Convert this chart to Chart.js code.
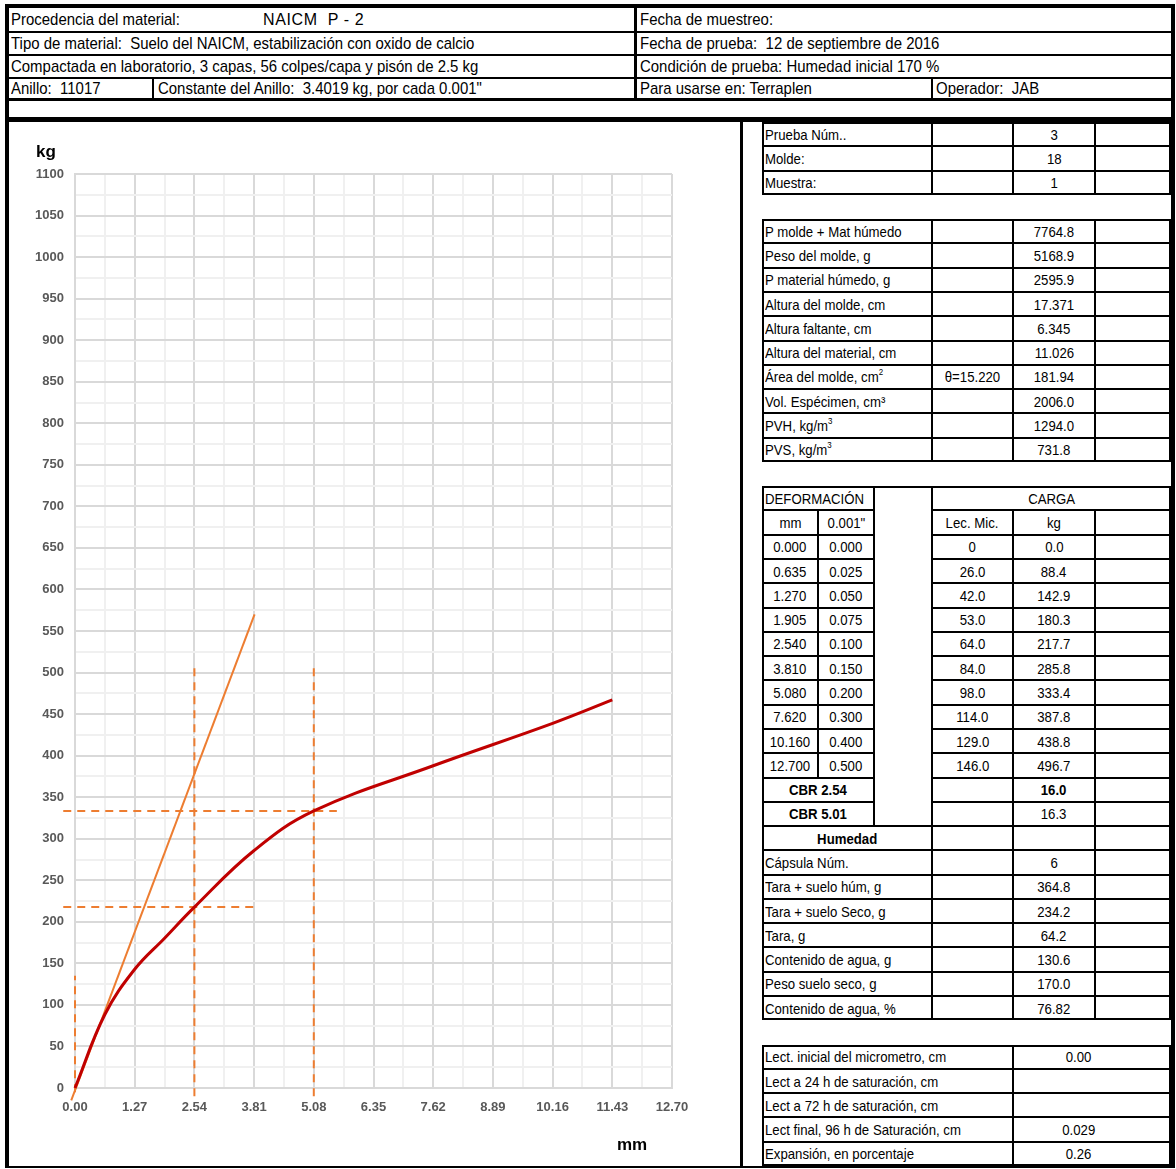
<!DOCTYPE html>
<html lang="es">
<head>
<meta charset="utf-8">
<title>CBR NAICM P-2</title>
<script src="https://cdn.jsdelivr.net/npm/chart.js@4.4.1/dist/chart.umd.min.js"></script>
<style>
  html, body { margin: 0; padding: 0; background: #fff; }
  body {
    width: 1176px; height: 1169px; position: relative; overflow: hidden; color: #000;
    font-family: "Liberation Sans Narrow", "Arial Narrow", "Liberation Sans", Arial, sans-serif;
  }
  .ln { position: absolute; background: #000; }
  .hd {
    position: absolute; font-size: 17px; line-height: 23px; white-space: nowrap;
    transform: scaleX(0.88); transform-origin: left center;
  }
  #chartBox { position: absolute; left: 9px; top: 122px; width: 731px; height: 1044px; }
  #tbl {
    position: absolute; left: 762px; top: 122px; width: 409px; height: 1044px;
    display: grid; grid-template-columns: 56px 56px 58px 81px 82px 76px;
    grid-template-rows: repeat(43, 1fr); font-size: 15px;
  }
  #tbl .c {
    border: 1px solid #000; display: flex; align-items: center; justify-content: center;
    white-space: nowrap; overflow: hidden;
  }
  #tbl .c span { display: inline-block; transform: scaleX(0.88); transform-origin: center; }
  #tbl .l { justify-content: flex-start; padding-left: 2px; }
  #tbl .l span { transform-origin: left center; }
  #tbl .b { font-weight: bold; }
  #tbl .r { padding-right: 26px; }
  #tbl .sec { border: 2px solid #000; pointer-events: none; }
  sup { font-size: 9px; vertical-align: top; line-height: 9px; }
</style>
</head>
<body>

<!-- frame -->
<div class="ln" style="left:5px;top:4px;width:1170px;height:4px"></div>
<div class="ln" style="left:5px;top:4px;width:4px;height:1164px"></div>
<div class="ln" style="left:1171px;top:4px;width:4px;height:1164px"></div>
<div class="ln" style="left:5px;top:1166px;width:1170px;height:2px"></div>
<!-- header rows -->
<div class="ln" style="left:5px;top:31px;width:1170px;height:2px"></div>
<div class="ln" style="left:5px;top:54px;width:1170px;height:2px"></div>
<div class="ln" style="left:5px;top:77px;width:1170px;height:2px"></div>
<div class="ln" style="left:5px;top:98px;width:1170px;height:3px"></div>
<div class="ln" style="left:5px;top:117px;width:1170px;height:5px"></div>
<div class="ln" style="left:634px;top:8px;width:3px;height:92px"></div>
<div class="ln" style="left:152px;top:77px;width:2px;height:22px"></div>
<div class="ln" style="left:931px;top:77px;width:2px;height:22px"></div>
<div class="ln" style="left:740px;top:122px;width:3px;height:1046px"></div>

<div class="hd" style="left:11px;top:8px">Procedencia del material:</div>
<div class="hd" style="left:263px;top:8px;font-family:'Liberation Sans',Arial,sans-serif;font-size:16px;letter-spacing:0.6px;transform:none">NAICM&nbsp; P - 2</div>
<div class="hd" style="left:11px;top:32px">Tipo de material:&nbsp; Suelo del NAICM, estabilización con oxido de calcio</div>
<div class="hd" style="left:11px;top:55px">Compactada en laboratorio, 3 capas, 56 colpes/capa y pisón de 2.5 kg</div>
<div class="hd" style="left:11px;top:77px">Anillo:&nbsp; 11017</div>
<div class="hd" style="left:158px;top:77px">Constante del Anillo:&nbsp; 3.4019 kg, por cada 0.001"</div>
<div class="hd" style="left:640px;top:8px">Fecha de muestreo:</div>
<div class="hd" style="left:640px;top:32px">Fecha de prueba:&nbsp; 12 de septiembre de 2016</div>
<div class="hd" style="left:640px;top:55px">Condición de prueba: Humedad inicial 170 %</div>
<div class="hd" style="left:640px;top:77px">Para usarse en: Terraplen</div>
<div class="hd" style="left:936px;top:77px">Operador:&nbsp; JAB</div>

<div id="chartBox"><canvas id="cbrChart"></canvas></div>
<div id="tbl"></div>

<script>
// Penetration test readings (table)
const deformMm = [0.000, 0.635, 1.270, 1.905, 2.540, 3.810, 5.080, 7.620, 10.160, 12.700];
const deformIn = [0.000, 0.025, 0.050, 0.075, 0.100, 0.150, 0.200, 0.300, 0.400, 0.500];
const lecMic = [0, 26.0, 42.0, 53.0, 64.0, 84.0, 98.0, 114.0, 129.0, 146.0];
const cargaKg = [0.0, 88.4, 142.9, 180.3, 217.7, 285.8, 333.4, 387.8, 438.8, 496.7];

// Curve drawn in the chart
const curveMm = [0, 0.635, 1.27, 1.905, 2.54, 3.81, 5.08, 7.62, 10.16, 11.43];
const curveKg = [0, 88.4, 142.9, 180.3, 217.7, 285.8, 333.4, 387.8, 438.8, 467.0];

// Tangent (corrected origin) line
const tangentMm = [-0.08, 3.82];
const tangentKg = [-15, 570];

// Dashed guide lines: pairs of [start, end]
const dashMm = [[0, 0], [2.54, 2.54], [5.08, 5.08], [-0.25, 3.87], [-0.25, 5.57]];
const dashKg = [[-5, 135], [-10, 510], [-10, 510], [217.7, 217.7], [333.4, 333.4]];

// Axis ticks
const xTickLabels = ['0.00', '1.27', '2.54', '3.81', '5.08', '6.35', '7.62', '8.89', '10.16', '11.43', '12.70'];
const yTickLabels = [0, 50, 100, 150, 200, 250, 300, 350, 400, 450, 500, 550,
                     600, 650, 700, 750, 800, 850, 900, 950, 1000, 1050, 1100];

// Side table texts
const infoRows = [['Prueba Núm..', '', '3'], ['Molde:', '', '18'], ['Muestra:', '', '1']];
const pesoRows = [
    ['P molde + Mat húmedo', '', '7764.8'],
    ['Peso del molde, g', '', '5168.9'],
    ['P material húmedo, g', '', '2595.9'],
    ['Altura del molde, cm', '', '17.371'],
    ['Altura faltante, cm', '', '6.345'],
    ['Altura del material, cm', '', '11.026'],
    ['Área del molde, cm<sup>2</sup>', 'θ=15.220', '181.94'],
    ['Vol. Espécimen, cm³', '', '2006.0'],
    ['PVH, kg/m<sup>3</sup>', '', '1294.0'],
    ['PVS, kg/m<sup>3</sup>', '', '731.8']
];
const humRows = [
    ['Cápsula Núm.', '6'],
    ['Tara + suelo húm, g', '364.8'],
    ['Tara + suelo Seco, g', '234.2'],
    ['Tara, g', '64.2'],
    ['Contenido de agua, g', '130.6'],
    ['Peso suelo seco, g', '170.0'],
    ['Contenido de agua, %', '76.82']
];
const lectRows = [
    ['Lect. inicial del micrometro, cm', '0.00'],
    ['Lect a 24 h de saturación, cm', ''],
    ['Lect a 72 h de saturación, cm', ''],
    ['Lect final, 96 h de Saturación, cm', '0.029'],
    ['Expansión, en porcentaje', '0.26']
];

/**
 * Build the side table on a CSS grid
 */
const tbl = document.getElementById('tbl');
function cell(row, col, cs, text, cls, rs) {
    const d = document.createElement('div');
    d.className = 'c ' + (cls || '');
    d.style.gridArea = `${row + 1} / ${col} / span ${rs || 1} / span ${cs}`;
    if (text) d.innerHTML = `<span>${text}</span>`;
    tbl.appendChild(d);
}
function section(r0, r1) {
    const d = document.createElement('div');
    d.className = 'sec';
    d.style.gridArea = `${r0 + 1} / 1 / ${r1 + 2} / 7`;
    tbl.appendChild(d);
}

infoRows.forEach((r, i) => {
    cell(i, 1, 3, r[0], 'l'); cell(i, 4, 1, r[1]); cell(i, 5, 1, r[2]); cell(i, 6, 1, '');
});
pesoRows.forEach((r, i) => {
    const row = 4 + i;
    cell(row, 1, 3, r[0], 'l'); cell(row, 4, 1, r[1]); cell(row, 5, 1, r[2]); cell(row, 6, 1, '');
});

cell(15, 1, 2, 'DEFORMACIÓN', 'l');
cell(15, 3, 1, '', '', 14);
cell(15, 4, 3, 'CARGA');
cell(16, 1, 1, 'mm'); cell(16, 2, 1, '0.001"');
cell(16, 4, 1, 'Lec. Mic.'); cell(16, 5, 1, 'kg'); cell(16, 6, 1, '');
deformMm.forEach((v, i) => {
    const row = 17 + i;
    cell(row, 1, 1, v.toFixed(3));
    cell(row, 2, 1, deformIn[i].toFixed(3));
    cell(row, 4, 1, i === 0 ? '0' : lecMic[i].toFixed(1));
    cell(row, 5, 1, cargaKg[i].toFixed(1));
    cell(row, 6, 1, '');
});
cell(27, 1, 2, 'CBR 2.54', 'b'); cell(27, 4, 1, ''); cell(27, 5, 1, '16.0', 'b'); cell(27, 6, 1, '');
cell(28, 1, 2, 'CBR 5.01', 'b'); cell(28, 4, 1, ''); cell(28, 5, 1, '16.3'); cell(28, 6, 1, '');
cell(29, 1, 3, 'Humedad', 'b'); cell(29, 4, 1, ''); cell(29, 5, 1, ''); cell(29, 6, 1, '');
humRows.forEach((r, i) => {
    const row = 30 + i;
    cell(row, 1, 3, r[0], 'l'); cell(row, 4, 1, ''); cell(row, 5, 1, r[1]); cell(row, 6, 1, '');
});
lectRows.forEach((r, i) => {
    const row = 38 + i;
    cell(row, 1, 4, r[0], 'l'); cell(row, 5, 2, r[1], 'r');
});
section(0, 2); section(4, 13); section(15, 36); section(38, 42);

/**
 * Chart
 */
const GRID_MAJOR = '#d9d9d9';
const GRID_MINOR = '#f0f0f0';
const ORANGE = '#ED7D31';
const RED = '#C00000';

function withMinor(values) {
    const out = [];
    values.forEach((v, i) => {
        out.push({ value: v });
        if (i < values.length - 1) out.push({ value: (v + values[i + 1]) / 2 });
    });
    return out;
}
const xMajor = xTickLabels.map(Number);

const pts = (xs, ys) => xs.map((x, i) => ({ x: x, y: ys[i] }));

const datasets = [{
    data: pts(curveMm, curveKg),
    borderColor: RED,
    borderWidth: 3,
    tension: 0.4,
    clip: false
}, {
    data: pts(tangentMm, tangentKg),
    borderColor: ORANGE,
    borderWidth: 2,
    clip: false
}];
dashMm.forEach((xs, i) => {
    datasets.push({
        data: pts(xs, dashKg[i]),
        borderColor: ORANGE,
        borderWidth: 2,
        borderDash: [8, 6],
        clip: false
    });
});

const axisTitles = {
    id: 'axisTitles',
    afterDraw(chart) {
        const { ctx, chartArea } = chart;
        ctx.save();
        ctx.font = 'bold 17px "Liberation Sans", Arial, sans-serif';
        ctx.fillStyle = '#000';
        ctx.textAlign = 'left';
        ctx.textBaseline = 'middle';
        ctx.fillText('kg', chartArea.left - 39, chartArea.top - 22);
        ctx.fillText('mm', chartArea.right - 55, chartArea.bottom + 57);
        ctx.restore();
    }
};

const tickFont = { family: '"Liberation Sans", Arial, sans-serif', size: 13, weight: 'bold' };

new Chart(document.getElementById('cbrChart').getContext('2d'), {
    type: 'scatter',
    data: { datasets: datasets },
    options: {
        responsive: true,
        maintainAspectRatio: false,
        animation: false,
        showLine: true,
        elements: { point: { radius: 0, hoverRadius: 0 } },
        layout: { padding: { top: 52, right: 68, left: 0, bottom: 0 } },
        plugins: { legend: { display: false }, tooltip: { enabled: false } },
        scales: {
            x: {
                type: 'linear', min: 0, max: 12.7,
                afterBuildTicks: s => { s.ticks = withMinor(xMajor); },
                afterFit: s => { s.height = 78; },
                grid: {
                    drawTicks: false, lineWidth: 2,
                    color: c => (c.index % 2 === 0 ? GRID_MAJOR : GRID_MINOR)
                },
                border: { color: GRID_MAJOR, width: 2 },
                ticks: {
                    autoSkip: false, maxRotation: 0, padding: 12,
                    color: '#595959', font: tickFont,
                    callback: (v, i) => (i % 2 === 0 ? xTickLabels[i / 2] : '')
                }
            },
            y: {
                type: 'linear', min: 0, max: 1100,
                afterBuildTicks: s => { s.ticks = withMinor(yTickLabels); },
                afterFit: s => { s.width = 66; },
                grid: {
                    drawTicks: false, lineWidth: 2,
                    color: c => (c.index % 2 === 0 ? GRID_MAJOR : GRID_MINOR)
                },
                border: { color: GRID_MAJOR, width: 2 },
                ticks: {
                    autoSkip: false, padding: 11,
                    color: '#595959', font: tickFont,
                    callback: (v, i) => (i % 2 === 0 ? String(yTickLabels[i / 2]) : '')
                }
            }
        }
    },
    plugins: [axisTitles]
});
</script>
</body>
</html>
